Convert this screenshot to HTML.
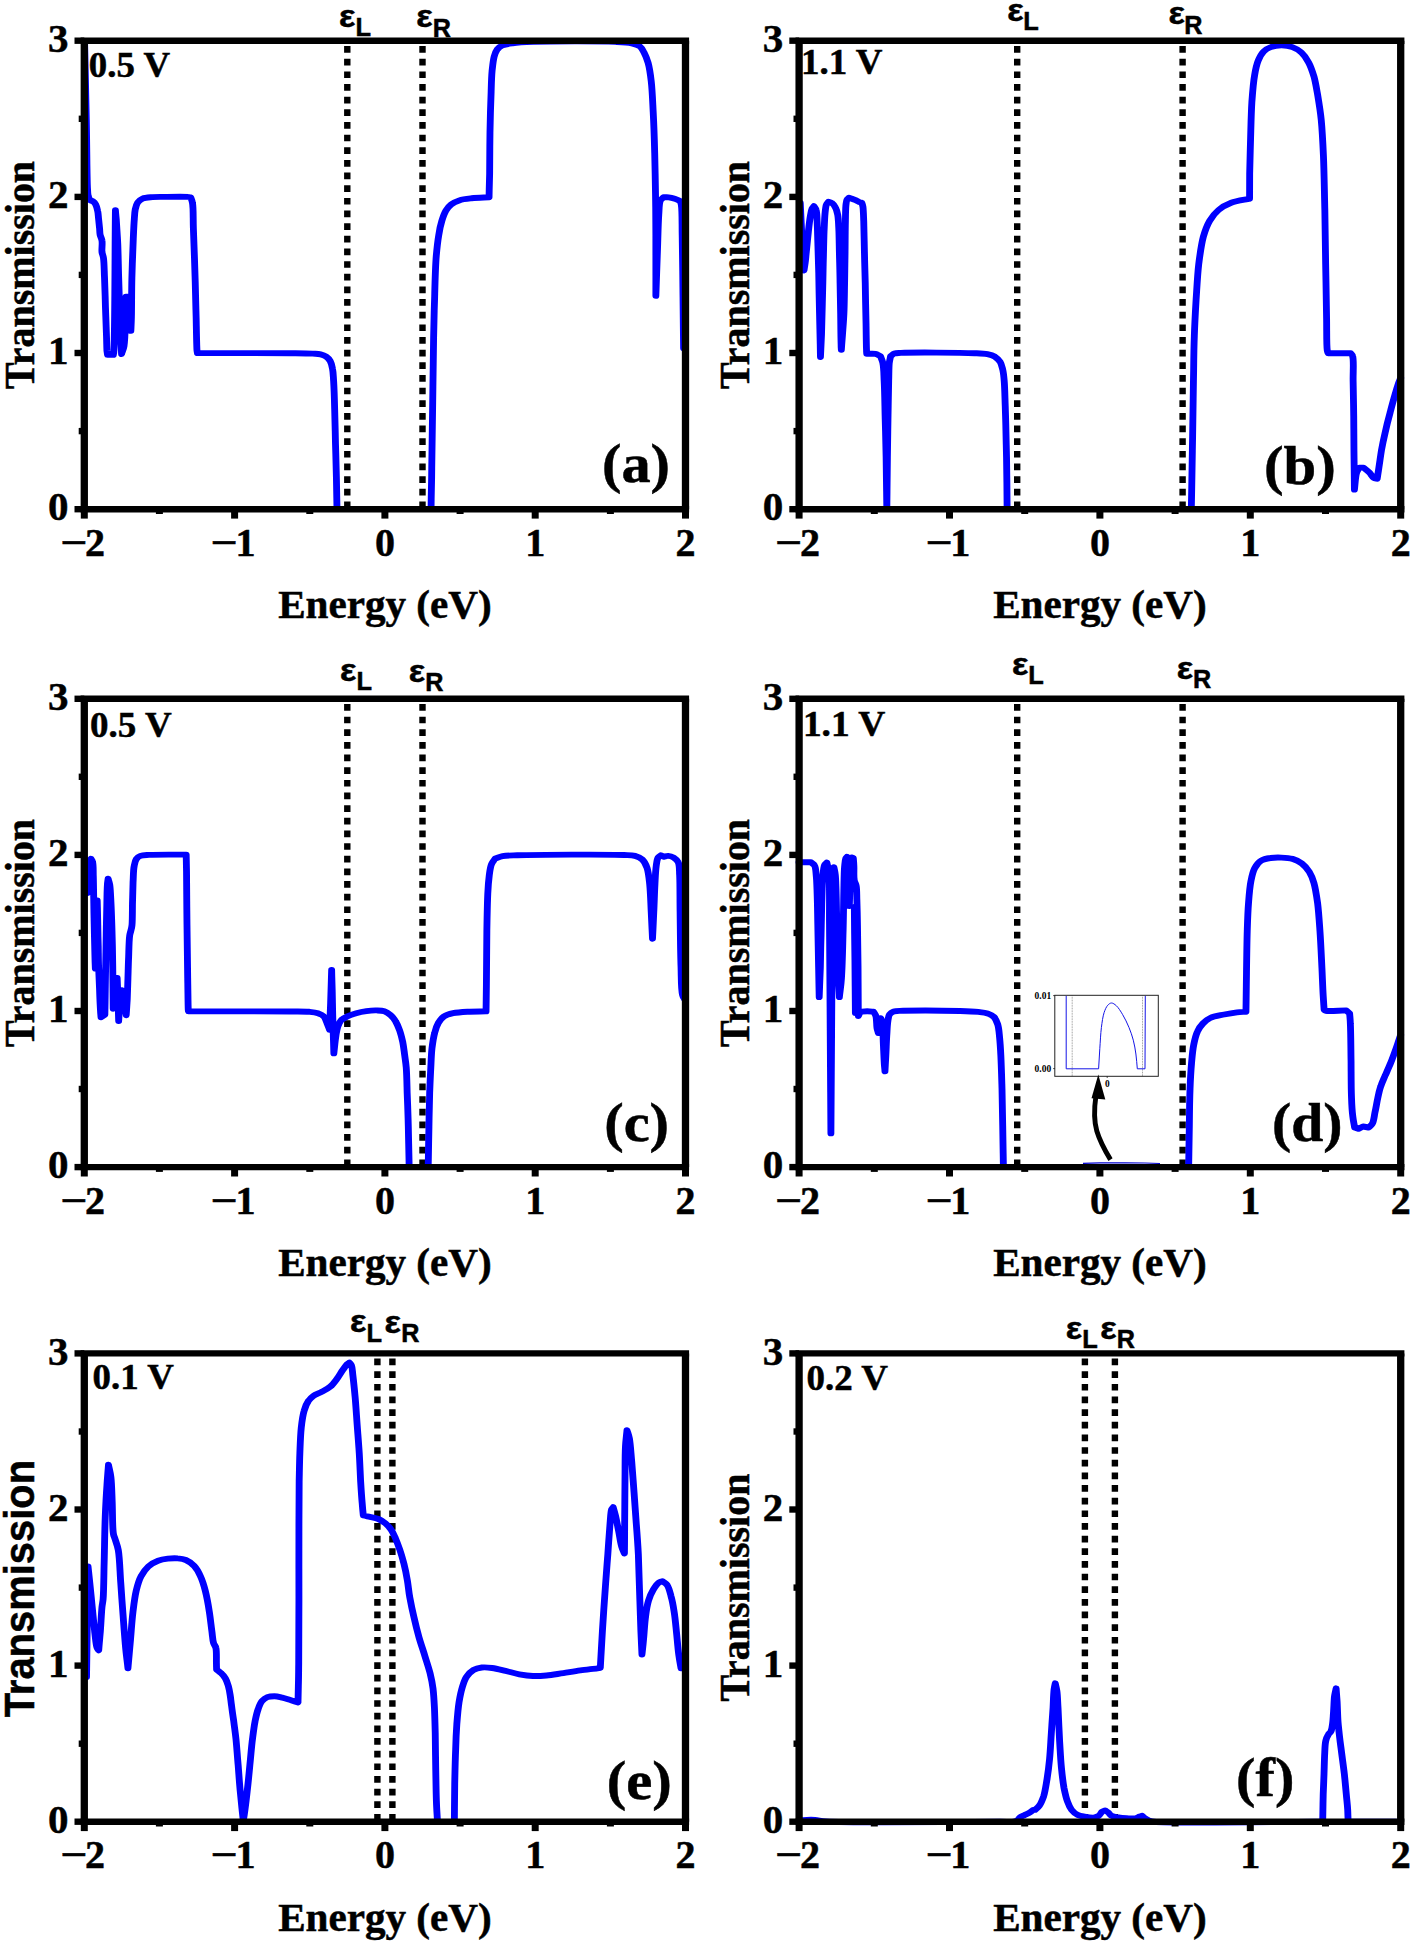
<!DOCTYPE html>
<html><head><meta charset="utf-8"><title>Transmission spectra</title>
<style>html,body{margin:0;padding:0;background:#fff}svg{display:block}</style></head>
<body>
<svg width="1413" height="1944" viewBox="0 0 1413 1944">
<rect width="1413" height="1944" fill="#fff"/>
<g id="panel-a">
<line x1="347.3" y1="508.2" x2="347.3" y2="40.7" stroke="#000" stroke-width="6.4" stroke-dasharray="6.7 5.95"/>
<line x1="422.5" y1="508.2" x2="422.5" y2="40.7" stroke="#000" stroke-width="6.4" stroke-dasharray="6.7 5.95"/>
<path transform="scale(1.16,1)" d="M72.9,41 C73.4,67.3 74,94.9 74.4,120 C74.8,142.7 74.9,172.4 75.3,185 C75.5,190.2 75.5,193.2 76,196 C76.4,197.8 77.1,198.9 77.6,200.3 C78.4,200.6 79.4,200.7 80.2,201.3 C81.1,202 81.9,203.1 82.5,204.4 C83.3,206.1 83.8,208.7 84.2,211 C84.7,213.5 84.7,216.2 85,219 C85.3,222.1 85.6,226.1 85.9,229 C86,231.2 86,232.8 86.3,234.7 C86.6,236.6 87.6,238.2 87.9,240.5 C88.4,243.7 87.6,248.8 87.9,252 C88.2,254.3 88.9,255.4 89.2,258 C89.8,262.7 89.8,270.5 90.1,277.7 C90.4,286.5 90.7,297.3 90.9,307 C91.2,316.7 91.6,327.9 91.8,336 C92,341.8 92,347.7 92.2,351 C92.4,352.7 92.5,353.5 92.7,354.8 L97.7,354.8 C97.8,353.9 98,353.6 98.1,352 C99.1,340.4 99,257.5 99.5,210.3 C99.7,213.2 99.9,215.4 100.2,219 C100.6,225.1 101.1,234.7 101.5,243.5 C101.9,253.9 102,266.7 102.3,277.7 C102.6,287.8 102.8,297.3 103.1,307 C103.4,316.7 103.6,327.5 104,336 C104.2,342.7 104.5,348 104.8,354 C105.5,351.3 106.4,349.5 106.9,346 C107.9,339.3 107.9,325.5 108.2,316.7 C108.4,309.4 108.5,303.4 108.6,296.7 L109.9,296.7 L112.8,330.9 C113,326.2 113.2,322.6 113.3,316.7 C113.5,306.9 113.4,290.7 113.7,277.7 C114,264.7 114.5,249.4 114.9,238.6 C115.2,230.9 115.4,224.4 115.8,219 C116,215.2 116.1,212.2 116.6,209.3 C117.1,206.8 117.6,204.3 118.7,202.5 C119.7,200.9 121.1,199.5 122.9,198.6 C125.1,197.5 128.4,197.4 131.4,197.1 C134.6,196.8 137.4,196.9 141.4,196.9 C147,196.8 158.6,196.5 162.1,196.9 C163.2,197 163.6,197.2 164.4,197.4 C164.9,199.2 165.6,200.3 165.9,202.8 C166.8,208.1 166.4,218 166.7,228 C167.2,242.6 167.9,265.8 168.3,282 C168.6,295.2 168.8,306.3 169.1,318 C169.3,329.1 169.5,345.6 169.8,350.4 C169.9,351.8 170.1,352.2 170.2,353.1 C196.8,353.1 232.4,353 250,353.2 C258.7,353.3 264.7,353.3 269.6,353.6 C272.4,353.8 274.3,353.7 276.4,354.3 C278.2,354.8 279.8,355.5 281.2,356.6 C282.6,357.7 283.8,359.3 284.7,361.1 C285.7,363.2 286.2,365.7 286.6,368.5 C287.3,372.1 287.3,376 287.6,381 C288,388.5 288.3,399.4 288.5,409.3 C288.8,420.1 289,432 289.2,443.3 C289.5,454.6 289.8,466.1 290,477.2 C290.2,488 290.3,498.4 290.5,509" fill="none" stroke="#0000ff" stroke-width="5.9" stroke-linejoin="round" stroke-linecap="round"/>
<path transform="scale(1.16,1)" d="M371.6,509 C371.7,498.4 371.9,488 372.1,477.2 C372.2,466.1 372.3,456 372.5,443.3 C372.7,426.8 373,404.8 373.2,386.6 C373.4,369.7 373.5,353.4 373.8,337.9 C374,323.6 374.3,310.5 374.7,296.8 C375,283.1 375.3,267.1 376.1,255.8 C376.7,247.8 377.3,241.5 378.2,235.3 C378.9,230.1 379.7,225.3 380.9,220.9 C381.9,217.1 382.9,213.5 384.4,210.6 C385.7,208.2 387,206.2 388.9,204.5 C390.8,202.8 393.3,201.4 395.9,200.4 C399,199.2 402.7,198.8 406.6,198.3 C411.1,197.7 416.6,197.6 421.6,197.3 C421.7,189.4 421.9,182.7 422.1,173.7 C422.2,161.9 422.2,146.3 422.4,132.6 C422.6,118.9 423,102.9 423.4,91.6 C423.6,83.6 423.7,77.3 424.2,71.1 C424.7,65.9 425.1,60.6 426,56.7 C426.7,53.8 427.3,51.4 428.6,49.5 C429.8,47.8 431.2,46.4 433.1,45.4 C435.4,44.2 438.4,43.8 441.9,43.3 C446.8,42.5 451.8,42.2 459.7,41.9 C475.4,41.3 515.9,41.2 530.4,41.9 C537,42.2 540.7,42.3 544.6,43.3 C547.4,44 549.9,44.8 551.6,46.4 C553.3,47.9 554.1,50.2 555.2,52.6 C556.5,55.5 557.7,58.8 558.7,62.8 C560,68 560.7,74.3 561.4,81.3 C562.3,90.2 562.6,101.1 563.1,112.1 C563.7,124.8 564.1,139.5 564.4,153.2 C564.7,166.9 564.9,180.5 565.1,194.2 C565.3,207.9 565.4,220.3 565.4,235.3 C565.5,253.5 565.4,275.6 565.4,295.8 C565.8,282.5 566.2,269.2 566.6,255.8 C567.1,242.2 567.3,224.9 567.9,214.7 C568.3,208.7 568.1,203.3 569.3,200.4 C570,198.8 571.1,198.3 572,197.3 C573.4,197.3 574.9,197.1 576.4,197.3 C578.1,197.5 580.1,198.1 581.7,198.7 C583.3,199.3 584.7,200.1 586.1,200.8 C586.5,202 587,202.6 587.3,204.5 C588.2,209.8 587.9,223.3 588.1,235.3 C588.4,252.3 588.6,277.2 588.8,296.8 C589,314.7 589.1,331 589.3,348.1" fill="none" stroke="#0000ff" stroke-width="5.9" stroke-linejoin="round" stroke-linecap="round"/>
<line x1="80.6" y1="40.7" x2="689.1" y2="40.7" stroke="#000" stroke-width="6.4"/>
<line x1="80.6" y1="509.2" x2="689.1" y2="509.2" stroke="#000" stroke-width="6.4"/>
<line x1="84.3" y1="40.7" x2="84.3" y2="509.2" stroke="#000" stroke-width="7.3"/>
<line x1="685.5" y1="40.7" x2="685.5" y2="509.2" stroke="#000" stroke-width="7.3"/>
<line x1="84.3" y1="509.2" x2="84.3" y2="518.6" stroke="#000" stroke-width="7"/>
<line x1="159.4" y1="509.2" x2="159.4" y2="514" stroke="#000" stroke-width="7"/>
<line x1="234.6" y1="509.2" x2="234.6" y2="518.6" stroke="#000" stroke-width="7"/>
<line x1="309.8" y1="509.2" x2="309.8" y2="514" stroke="#000" stroke-width="7"/>
<line x1="384.9" y1="509.2" x2="384.9" y2="518.6" stroke="#000" stroke-width="7"/>
<line x1="460.1" y1="509.2" x2="460.1" y2="514" stroke="#000" stroke-width="7"/>
<line x1="535.2" y1="509.2" x2="535.2" y2="518.6" stroke="#000" stroke-width="7"/>
<line x1="610.4" y1="509.2" x2="610.4" y2="514" stroke="#000" stroke-width="7"/>
<line x1="685.5" y1="509.2" x2="685.5" y2="518.6" stroke="#000" stroke-width="7"/>
<line x1="74.5" y1="509.2" x2="84.3" y2="509.2" stroke="#000" stroke-width="6.4"/>
<line x1="78.7" y1="431.1" x2="84.3" y2="431.1" stroke="#000" stroke-width="6.4"/>
<line x1="74.5" y1="353" x2="84.3" y2="353" stroke="#000" stroke-width="6.4"/>
<line x1="78.7" y1="274.9" x2="84.3" y2="274.9" stroke="#000" stroke-width="6.4"/>
<line x1="74.5" y1="196.9" x2="84.3" y2="196.9" stroke="#000" stroke-width="6.4"/>
<line x1="78.7" y1="118.8" x2="84.3" y2="118.8" stroke="#000" stroke-width="6.4"/>
<line x1="74.5" y1="40.7" x2="84.3" y2="40.7" stroke="#000" stroke-width="6.4"/>
<text x="60.2" y="555.6" font-family="'Liberation Serif','Times New Roman',serif" font-size="40" font-weight="bold" text-anchor="start" textLength="27.3" lengthAdjust="spacingAndGlyphs" stroke="#000" stroke-width="0.5">−</text>
<text x="85.1" y="555.6" font-family="'Liberation Serif','Times New Roman',serif" font-size="40" font-weight="bold" text-anchor="start" stroke="#000" stroke-width="0.5">2</text>
<text x="210.5" y="555.6" font-family="'Liberation Serif','Times New Roman',serif" font-size="40" font-weight="bold" text-anchor="start" textLength="27.3" lengthAdjust="spacingAndGlyphs" stroke="#000" stroke-width="0.5">−</text>
<text x="235.4" y="555.6" font-family="'Liberation Serif','Times New Roman',serif" font-size="40" font-weight="bold" text-anchor="start" stroke="#000" stroke-width="0.5">1</text>
<text x="384.9" y="555.6" font-family="'Liberation Serif','Times New Roman',serif" font-size="40" font-weight="bold" text-anchor="middle" stroke="#000" stroke-width="0.5">0</text>
<text x="535.2" y="555.6" font-family="'Liberation Serif','Times New Roman',serif" font-size="40" font-weight="bold" text-anchor="middle" stroke="#000" stroke-width="0.5">1</text>
<text x="685.5" y="555.6" font-family="'Liberation Serif','Times New Roman',serif" font-size="40" font-weight="bold" text-anchor="middle" stroke="#000" stroke-width="0.5">2</text>
<text x="68.4" y="520.3" font-family="'Liberation Serif','Times New Roman',serif" font-size="41" font-weight="bold" text-anchor="end" stroke="#000" stroke-width="0.5">0</text>
<text x="68.4" y="364.1" font-family="'Liberation Serif','Times New Roman',serif" font-size="41" font-weight="bold" text-anchor="end" stroke="#000" stroke-width="0.5">1</text>
<text x="68.4" y="208" font-family="'Liberation Serif','Times New Roman',serif" font-size="41" font-weight="bold" text-anchor="end" stroke="#000" stroke-width="0.5">2</text>
<text x="68.4" y="51.8" font-family="'Liberation Serif','Times New Roman',serif" font-size="41" font-weight="bold" text-anchor="end" stroke="#000" stroke-width="0.5">3</text>
<text x="384.9" y="618.1" font-family="'Liberation Serif','Times New Roman',serif" font-size="40" font-weight="bold" text-anchor="middle" textLength="213.5" lengthAdjust="spacingAndGlyphs" stroke="#000" stroke-width="0.5">Energy (eV)</text>
<g transform="translate(34,274.9) rotate(-90) scale(1,1.06)"><text x="0" y="0" font-family="'Liberation Serif','Times New Roman',serif" font-size="40" font-weight="bold" text-anchor="middle" textLength="228" lengthAdjust="spacingAndGlyphs" stroke="#000" stroke-width="0.5">Transmission</text></g>
<text x="88.8" y="77" font-family="'Liberation Serif','Times New Roman',serif" font-size="36.6" font-weight="bold" text-anchor="start" textLength="81.2" lengthAdjust="spacingAndGlyphs" stroke="#000" stroke-width="0.5">0.5 V</text>
<text x="602" y="481.9" font-family="'Liberation Serif','Times New Roman',serif" font-size="55" font-weight="bold" text-anchor="start" textLength="68" lengthAdjust="spacingAndGlyphs" stroke="#000" stroke-width="0.5">(a)</text>
<text x="338.9" y="26.9" font-family="'Liberation Sans',Arial,sans-serif" font-size="31.8" font-weight="bold" text-anchor="start" textLength="16.4" lengthAdjust="spacingAndGlyphs" stroke="#000" stroke-width="0.5">ε</text>
<text x="355.4" y="35.7" font-family="'Liberation Sans',Arial,sans-serif" font-size="25.4" font-weight="bold" text-anchor="start" textLength="15.5" lengthAdjust="spacingAndGlyphs" stroke="#000" stroke-width="0.5">L</text>
<text x="416.3" y="27.4" font-family="'Liberation Sans',Arial,sans-serif" font-size="31.8" font-weight="bold" text-anchor="start" textLength="16.4" lengthAdjust="spacingAndGlyphs" stroke="#000" stroke-width="0.5">ε</text>
<text x="432.7" y="36.8" font-family="'Liberation Sans',Arial,sans-serif" font-size="25.4" font-weight="bold" text-anchor="start" textLength="18.2" lengthAdjust="spacingAndGlyphs" stroke="#000" stroke-width="0.5">R</text>
</g>
<g id="panel-b">
<line x1="1017.2" y1="508.2" x2="1017.2" y2="40.7" stroke="#000" stroke-width="6.4" stroke-dasharray="6.7 5.95"/>
<line x1="1182.6" y1="508.2" x2="1182.6" y2="40.7" stroke="#000" stroke-width="6.4" stroke-dasharray="6.7 5.95"/>
<path transform="scale(1.16,1)" d="M689.9,203 C690.3,213.7 690.8,225 691.2,235 C691.6,243.8 691.8,253.4 692.2,260 C692.5,264.3 692.8,267 693.1,270.5 C693.4,268 693.8,265.7 694.1,263 C694.5,259.7 694.7,256.2 695.1,252 C695.6,246.2 696.3,237.8 696.9,231.4 C697.4,225.9 698,220.2 698.6,216 C699.1,213.1 699.3,210.6 700,208.8 C700.5,207.7 701.1,207.1 701.7,206.2 C702.3,207.4 703.1,208.2 703.5,209.8 C704.3,212.5 704.2,216.8 704.4,221.2 C704.7,227 704.8,234.2 705,241.7 C705.3,250.9 705.5,261.6 705.8,272.6 C706,285.3 706.2,301 706.5,313.7 C706.7,324.7 706.9,336.6 707.1,344.6 C707.2,349.7 707.2,352.9 707.3,357 C707.6,349.4 707.9,342.4 708.2,334.3 C708.5,324.8 708.6,314.5 708.9,303.5 C709.2,290.8 709.5,275 709.7,262.3 C710,251.3 710.1,240.2 710.4,231.4 C710.7,224.8 710.8,218.9 711.2,214 C711.5,210.4 711.7,206.9 712.4,204.7 C712.9,203.4 713.6,202.8 714.1,201.8 C715.2,202.2 716.3,202.3 717.2,203.1 C718.4,204.1 719.5,206 720.3,207.8 C721.3,209.9 721.7,212.3 722.2,215 C722.7,218.3 722.8,221.8 723,226.3 C723.4,233.1 723.4,243 723.6,252 C723.8,261.8 724.1,272.6 724.2,282.9 C724.4,293.2 724.5,303.4 724.7,313.7 C724.8,324 724.9,338.6 725.1,344.6 C725.1,347.1 725.2,348.1 725.3,349.8 C725.6,344.6 725.9,339.8 726.3,334.3 C726.7,327.9 727.2,321.3 727.5,313.7 C727.9,304.5 727.9,293.2 728.1,282.9 C728.3,272.6 728.4,262.3 728.5,252 C728.6,241.7 728.6,229.7 728.8,221.2 C728.9,215.2 728.9,209.7 729.2,205.7 C729.5,203.2 729.5,200.9 730.2,199.5 C730.6,198.6 731.3,198.3 731.9,197.7 C732.9,198.1 733.9,198.5 735,199 C736.1,199.5 737.5,200 738.5,200.6 C739.4,201.1 740,201.7 740.8,202.1 C741.5,202.4 742.3,202.6 743,202.8 C743.3,204.1 743.6,205 743.9,206.7 C744.3,210 744.4,215.5 744.6,221.2 C744.8,229.6 745,241.7 745.2,252 C745.4,262.3 745.6,271.9 745.9,282.9 C746.1,295.6 746.3,311.9 746.6,324 C746.7,333.6 746.8,344.9 747,349.8 C747,351.8 747.1,352.5 747.2,353.9 C749.6,353.9 752.5,353.4 754.6,353.9 C756.3,354.3 757.5,355.4 759,356.1 C759.7,358.4 760.6,360.2 761.1,363.1 C762,367.7 761.9,373.9 762.2,381 C762.7,391.3 762.8,406.5 763.1,419.2 C763.4,431.9 763.7,443.7 763.9,457.4 C764.1,473.3 764.3,491.8 764.5,509 C764.7,491.8 764.8,473.3 765,457.4 C765.2,443.7 765.3,431.9 765.5,419.2 C765.7,406.5 765.9,391.3 766.1,381 C766.3,373.9 766.2,367.7 766.6,363.1 C766.9,360.2 767.4,358.4 767.8,356.1 C768.9,355.3 769.7,354.1 771,353.6 C772.6,353 773.7,353.1 776.6,352.9 C786.2,352.3 827.7,352.6 840.2,353.2 C845.4,353.4 848.1,353.4 851.2,354.2 C853.7,354.8 855.9,355.5 857.8,356.8 C859.5,358.1 861.1,359.8 862.2,361.8 C863.4,364 863.8,366.6 864.4,369.5 C865.1,372.9 865.4,376.4 865.7,381 C866.2,387.8 866.3,397.9 866.6,406.4 C866.8,414.9 867.1,423.4 867.2,431.9 C867.4,440.4 867.5,448.9 867.7,457.4 C867.8,465.9 867.9,474.4 868,482.9 C868.1,491.5 868.1,500.3 868.2,509" fill="none" stroke="#0000ff" stroke-width="5.9" stroke-linejoin="round" stroke-linecap="round"/>
<path transform="scale(1.16,1)" d="M1027,509 C1027.3,489.5 1027.7,469.3 1027.9,450.4 C1028.2,432.7 1028.4,413.5 1028.6,398.8 C1028.8,387.8 1028.8,380 1029,370 C1029.1,359.1 1029.2,347.5 1029.6,336 C1029.9,324.2 1030.5,312 1031.1,300 C1031.8,288 1032.3,275.1 1033.4,264 C1034.5,254.3 1035.5,244.8 1037.3,237 C1038.8,230.8 1040.4,225.5 1042.8,220.8 C1044.9,216.7 1047.4,213 1050.5,210 C1053.6,207 1057.4,204.6 1061.4,202.8 C1065.6,200.9 1072.8,199.8 1075.3,199.2 C1076.3,199 1076.6,198.9 1077.2,198.8 C1077.3,190.5 1077.2,183 1077.3,174 C1077.5,163.1 1077.8,150 1078.1,138 C1078.4,126 1078.6,113.1 1079.2,102 C1079.8,92.3 1080.4,82.6 1081.6,75 C1082.4,69.4 1083.2,64.8 1084.7,60.6 C1085.9,57.2 1087.3,53.9 1089.3,51.6 C1091,49.6 1093.1,48.1 1095.5,47.1 C1098.2,45.9 1101.7,45.3 1104.8,45.3 C1107.9,45.3 1111.3,45.9 1114.1,47.1 C1117,48.3 1119.7,50.1 1121.9,52.5 C1124.4,55.1 1126.4,58.7 1128.1,62.4 C1130.1,66.6 1131.5,71.7 1132.8,76.8 C1134.1,82.4 1134.9,88.3 1135.9,94.8 C1137,102.5 1138.2,110.8 1139,120 C1139.9,130.9 1140.4,142.8 1140.9,156 C1141.5,172.2 1141.7,192 1142.1,210 C1142.4,228 1142.6,246 1142.8,264 C1143.1,282 1143.4,302.3 1143.6,318 C1143.8,330.2 1143.5,345.8 1144.2,350.6 C1144.4,352 1144.7,352.3 1145,353.2 L1164.3,353.2 C1164.9,354.1 1165.6,354.4 1166,355.8 C1167.3,359.9 1166.3,372.4 1166.5,381.6 C1166.6,392.2 1166.9,404.5 1167,416 C1167.1,427.5 1167.1,438.6 1167.2,450.4 C1167.3,463 1167.5,476.5 1167.6,489.6 C1168.2,484 1168.4,476.6 1169.5,472.7 C1170.1,470.4 1171,469.3 1171.7,467.6 L1175.4,467.6 C1177.2,469.3 1179.1,470.9 1180.6,472.7 C1182,474.4 1183,476.9 1184.3,477.9 C1185.2,478.6 1186.3,478.5 1187.2,478.8 C1187.7,475.1 1188.2,471.7 1188.7,467.6 C1189.4,462.5 1190.1,456.1 1190.9,450.4 C1191.8,444.7 1192.8,439.2 1194,433.2 C1195.2,426.6 1196.8,419.2 1198.4,412.5 C1199.8,406 1201.6,398.7 1202.8,393.6 C1203.7,390.2 1204.3,387.7 1205.1,385 C1205.8,382.5 1206.7,380.3 1207.5,378" fill="none" stroke="#0000ff" stroke-width="5.9" stroke-linejoin="round" stroke-linecap="round"/>
<line x1="795.5" y1="40.7" x2="1404.4" y2="40.7" stroke="#000" stroke-width="6.4"/>
<line x1="795.5" y1="509.2" x2="1404.4" y2="509.2" stroke="#000" stroke-width="6.4"/>
<line x1="799.1" y1="40.7" x2="799.1" y2="509.2" stroke="#000" stroke-width="7.3"/>
<line x1="1400.7" y1="40.7" x2="1400.7" y2="509.2" stroke="#000" stroke-width="7.3"/>
<line x1="799.1" y1="509.2" x2="799.1" y2="518.6" stroke="#000" stroke-width="7"/>
<line x1="874.3" y1="509.2" x2="874.3" y2="514" stroke="#000" stroke-width="7"/>
<line x1="949.5" y1="509.2" x2="949.5" y2="518.6" stroke="#000" stroke-width="7"/>
<line x1="1024.7" y1="509.2" x2="1024.7" y2="514" stroke="#000" stroke-width="7"/>
<line x1="1099.9" y1="509.2" x2="1099.9" y2="518.6" stroke="#000" stroke-width="7"/>
<line x1="1175.1" y1="509.2" x2="1175.1" y2="514" stroke="#000" stroke-width="7"/>
<line x1="1250.3" y1="509.2" x2="1250.3" y2="518.6" stroke="#000" stroke-width="7"/>
<line x1="1325.5" y1="509.2" x2="1325.5" y2="514" stroke="#000" stroke-width="7"/>
<line x1="1400.7" y1="509.2" x2="1400.7" y2="518.6" stroke="#000" stroke-width="7"/>
<line x1="789.3" y1="509.2" x2="799.1" y2="509.2" stroke="#000" stroke-width="6.4"/>
<line x1="793.5" y1="431.1" x2="799.1" y2="431.1" stroke="#000" stroke-width="6.4"/>
<line x1="789.3" y1="353" x2="799.1" y2="353" stroke="#000" stroke-width="6.4"/>
<line x1="793.5" y1="274.9" x2="799.1" y2="274.9" stroke="#000" stroke-width="6.4"/>
<line x1="789.3" y1="196.9" x2="799.1" y2="196.9" stroke="#000" stroke-width="6.4"/>
<line x1="793.5" y1="118.8" x2="799.1" y2="118.8" stroke="#000" stroke-width="6.4"/>
<line x1="789.3" y1="40.7" x2="799.1" y2="40.7" stroke="#000" stroke-width="6.4"/>
<text x="775" y="555.6" font-family="'Liberation Serif','Times New Roman',serif" font-size="40" font-weight="bold" text-anchor="start" textLength="27.3" lengthAdjust="spacingAndGlyphs" stroke="#000" stroke-width="0.5">−</text>
<text x="799.9" y="555.6" font-family="'Liberation Serif','Times New Roman',serif" font-size="40" font-weight="bold" text-anchor="start" stroke="#000" stroke-width="0.5">2</text>
<text x="925.4" y="555.6" font-family="'Liberation Serif','Times New Roman',serif" font-size="40" font-weight="bold" text-anchor="start" textLength="27.3" lengthAdjust="spacingAndGlyphs" stroke="#000" stroke-width="0.5">−</text>
<text x="950.3" y="555.6" font-family="'Liberation Serif','Times New Roman',serif" font-size="40" font-weight="bold" text-anchor="start" stroke="#000" stroke-width="0.5">1</text>
<text x="1099.9" y="555.6" font-family="'Liberation Serif','Times New Roman',serif" font-size="40" font-weight="bold" text-anchor="middle" stroke="#000" stroke-width="0.5">0</text>
<text x="1250.3" y="555.6" font-family="'Liberation Serif','Times New Roman',serif" font-size="40" font-weight="bold" text-anchor="middle" stroke="#000" stroke-width="0.5">1</text>
<text x="1400.7" y="555.6" font-family="'Liberation Serif','Times New Roman',serif" font-size="40" font-weight="bold" text-anchor="middle" stroke="#000" stroke-width="0.5">2</text>
<text x="783.2" y="520.3" font-family="'Liberation Serif','Times New Roman',serif" font-size="41" font-weight="bold" text-anchor="end" stroke="#000" stroke-width="0.5">0</text>
<text x="783.2" y="364.1" font-family="'Liberation Serif','Times New Roman',serif" font-size="41" font-weight="bold" text-anchor="end" stroke="#000" stroke-width="0.5">1</text>
<text x="783.2" y="208" font-family="'Liberation Serif','Times New Roman',serif" font-size="41" font-weight="bold" text-anchor="end" stroke="#000" stroke-width="0.5">2</text>
<text x="783.2" y="51.8" font-family="'Liberation Serif','Times New Roman',serif" font-size="41" font-weight="bold" text-anchor="end" stroke="#000" stroke-width="0.5">3</text>
<text x="1099.9" y="618.1" font-family="'Liberation Serif','Times New Roman',serif" font-size="40" font-weight="bold" text-anchor="middle" textLength="213.5" lengthAdjust="spacingAndGlyphs" stroke="#000" stroke-width="0.5">Energy (eV)</text>
<g transform="translate(748.8,274.9) rotate(-90) scale(1,1.06)"><text x="0" y="0" font-family="'Liberation Serif','Times New Roman',serif" font-size="40" font-weight="bold" text-anchor="middle" textLength="228" lengthAdjust="spacingAndGlyphs" stroke="#000" stroke-width="0.5">Transmission</text></g>
<text x="801" y="73.7" font-family="'Liberation Serif','Times New Roman',serif" font-size="36.6" font-weight="bold" text-anchor="start" textLength="81.4" lengthAdjust="spacingAndGlyphs" stroke="#000" stroke-width="0.5">1.1 V</text>
<text x="1264" y="484.2" font-family="'Liberation Serif','Times New Roman',serif" font-size="55" font-weight="bold" text-anchor="start" textLength="71.8" lengthAdjust="spacingAndGlyphs" stroke="#000" stroke-width="0.5">(b)</text>
<text x="1007.3" y="20.7" font-family="'Liberation Sans',Arial,sans-serif" font-size="31.8" font-weight="bold" text-anchor="start" textLength="16.4" lengthAdjust="spacingAndGlyphs" stroke="#000" stroke-width="0.5">ε</text>
<text x="1023.2" y="29.6" font-family="'Liberation Sans',Arial,sans-serif" font-size="25.4" font-weight="bold" text-anchor="start" textLength="15.5" lengthAdjust="spacingAndGlyphs" stroke="#000" stroke-width="0.5">L</text>
<text x="1168.4" y="23.8" font-family="'Liberation Sans',Arial,sans-serif" font-size="31.8" font-weight="bold" text-anchor="start" textLength="16.4" lengthAdjust="spacingAndGlyphs" stroke="#000" stroke-width="0.5">ε</text>
<text x="1184.3" y="33.5" font-family="'Liberation Sans',Arial,sans-serif" font-size="25.4" font-weight="bold" text-anchor="start" textLength="18.2" lengthAdjust="spacingAndGlyphs" stroke="#000" stroke-width="0.5">R</text>
</g>
<g id="panel-c">
<line x1="347.3" y1="1166.1" x2="347.3" y2="698.8" stroke="#000" stroke-width="6.4" stroke-dasharray="6.7 5.95"/>
<line x1="422.5" y1="1166.1" x2="422.5" y2="698.8" stroke="#000" stroke-width="6.4" stroke-dasharray="6.7 5.95"/>
<path transform="scale(1.16,1)" d="M75.3,893 C75.5,886 75.7,878 76,872 C76.3,867.6 76.1,862.6 77,860.5 C77.4,859.6 78,859.4 78.4,858.8 C78.9,859.9 79.5,860.5 79.8,862 C80.5,864.8 80.3,870.3 80.4,875 C80.6,880.5 80.6,886.1 80.7,893 C80.8,902.1 81,914.5 81.2,925 C81.4,935.2 81.6,947 81.8,955 C81.9,960.4 82,964 82.2,968.5 C82.4,962.3 82.6,956.6 82.8,950 C83,942.3 83.1,932.9 83.2,925 C83.3,918 83.4,909.3 83.5,905 C83.6,903 83.7,902 83.8,900.5 C84,908.7 84.2,917.1 84.3,925 C84.4,932.3 84.5,939 84.7,946 C84.8,953 84.8,960 85,967 C85.2,974.2 85.5,981.4 85.8,988.6 C86,995.7 86.3,1004.6 86.6,1009.9 C86.7,1013 86.9,1014.8 87.1,1017.3 L90.4,1014.6 C90.6,1002.4 90.8,989.8 90.9,978 C91.1,967 91.2,957.6 91.4,946.2 C91.6,933.1 91.8,915.1 92.1,903.7 C92.2,896.1 92.3,889.1 92.6,884.6 C92.7,882.1 93,880.7 93.2,878.7 C93.6,880.7 94.2,882.1 94.6,884.6 C95.2,889.1 95.4,897.2 95.7,903.7 C96,910.6 96.2,917.8 96.4,924.9 C96.6,932 96.7,938.4 96.9,946.2 C97.1,955.7 97.2,967.5 97.3,978 C97.4,988.3 97.5,998.5 97.6,1008.8 C98.1,1005.6 98.7,1003 99.1,999.2 C99.8,993.5 100.4,985.1 101,978 C101.3,985.1 101.5,992.1 101.7,999.2 C101.9,1006.4 102.1,1013.7 102.3,1021 C102.6,1015.5 102.8,1009.8 103.3,1004.5 C103.7,999.6 104.5,995 105.1,990.2 C105.7,993.2 106.4,995.8 107,999.2 C107.7,1003.8 108.2,1009.9 108.8,1015.2 C109.1,1009.9 109.4,1004.9 109.7,999.2 C109.9,992.6 110.1,985.1 110.3,978 C110.5,970.9 110.6,963.9 110.9,956.8 C111.1,949.7 111.2,940.2 111.8,935.5 C112.1,933.1 112.6,932 112.9,930.2 C113.3,928.4 113.6,927.3 113.8,924.9 C114.2,920.2 114.1,910.8 114.2,903.7 C114.4,896.6 114.5,889.1 114.7,882.5 C115,876.8 114.9,870.8 115.6,866.5 C116.1,863.5 116.4,860.9 117.5,859.1 C118.4,857.6 119.6,856.6 121.1,855.9 C123,855 125.1,855.1 128.4,854.9 C135.4,854.4 149.8,854.7 160.5,854.6 C160.6,860.3 160.7,864.5 160.8,871.8 C160.9,884.6 161,907.2 161.2,924.9 C161.4,942.6 161.6,962.5 161.8,978 C162,990 162.1,1006.2 162.3,1009.9 C162.4,1010.7 162.4,1010.8 162.5,1011.3 C191.7,1011.4 232.4,1011.3 250,1011.5 C257.7,1011.6 262,1011.4 266.5,1011.8 C269.5,1012.1 271.9,1012.3 274.1,1013.2 C276.1,1014 277.9,1014.9 279.1,1016.4 C280.5,1018 281,1020.6 281.8,1022.8 C282.7,1025.1 283.4,1027.5 284.1,1029.8 C284.4,1021.1 284.7,1013 285,1003.7 C285.3,993.2 285.6,981.2 285.9,969.9 C286,976.9 286.2,983.2 286.4,991 C286.6,1000.5 286.7,1012.3 287,1022.8 C287.2,1033.1 287.6,1043.2 287.8,1053.4 C288.4,1047.4 288.9,1040.4 289.6,1035.5 C290.1,1032 290.4,1029.3 291.2,1026.6 C291.9,1024.3 292.6,1022 294,1020.3 C295.3,1018.6 297.4,1017.5 299.4,1016.4 C301.7,1015.1 304.4,1014.1 307.1,1013.2 C309.9,1012.3 312.9,1011.6 315.9,1011.1 C318.8,1010.6 321.9,1010.3 324.7,1010.4 C327,1010.5 329.3,1010.5 331.3,1011.3 C333.3,1012.1 335.1,1013.6 336.7,1015.2 C338.4,1016.9 339.9,1019.1 341.1,1021.5 C342.5,1024.1 343.5,1027.2 344.5,1030.4 C345.6,1034 346.4,1038 347.2,1041.9 C347.9,1046 348.3,1050.4 348.8,1054.6 C349.3,1058.9 349.8,1062.4 350.2,1067.4 C350.7,1074.4 350.8,1084.4 351,1092.9 C351.3,1101.4 351.6,1109.8 351.8,1118.3 C352,1126.8 352.2,1135.5 352.3,1143.8 C352.5,1151.7 352.6,1159.3 352.7,1167" fill="none" stroke="#0000ff" stroke-width="5.9" stroke-linejoin="round" stroke-linecap="round"/>
<path transform="scale(1.16,1)" d="M369.1,1167 C369.3,1159.3 369.4,1151.7 369.5,1143.8 C369.6,1135.5 369.8,1126.8 369.9,1118.3 C370.1,1109.8 370.2,1101.4 370.4,1092.9 C370.7,1084.4 371,1075.3 371.4,1067.4 C371.7,1060.6 371.8,1054.3 372.4,1048.3 C373,1042.9 373.6,1037.5 374.7,1033 C375.5,1029.2 376.4,1025.7 377.9,1022.8 C379.2,1020.3 380.8,1018 382.8,1016.4 C385,1014.8 387.7,1014 390.6,1013.2 C394.2,1012.3 398.7,1012 403.1,1011.7 C408.1,1011.4 413.7,1011.5 419,1011.4 C419.1,1002.8 419.2,995.8 419.3,985.6 C419.5,970.7 419.5,946.9 419.7,930.4 C419.9,916.9 420.1,903.8 420.5,893.6 C420.8,886.4 421.2,880.5 421.8,875.2 C422.3,871.1 422.6,867.2 423.7,864.2 C424.5,861.9 425.8,860.5 426.9,858.6 C429,857.8 430.7,856.8 433.3,856.2 C436.7,855.4 439.8,855.5 445.9,855.3 C462.5,854.7 523,854.3 537.9,855 C542.7,855.2 544.6,855 547.4,855.9 C549.8,856.7 552.1,857.8 553.8,859.6 C555.7,861.6 556.8,864.5 557.8,867.8 C559.1,872.3 559.5,878.2 560.1,884.4 C560.8,892.4 561,902.9 561.4,912 C561.8,921 562.1,929.8 562.5,938.7 C562.9,929.8 563.3,921 563.6,912 C564,902.9 564.2,892.7 564.6,884.4 C564.9,877.6 565.1,870.9 565.7,866 C566.1,862.7 566.3,859.5 567.2,857.7 C567.9,856.5 568.9,856.1 569.7,855.3 L572.1,856.8 C573.4,856.5 574.7,855.8 576,855.9 C577.6,856 579.4,856.7 580.8,857.7 C582.3,858.8 583.9,860.2 584.7,862.3 C586,865.4 585.6,869.8 585.9,875.2 C586.3,884.3 586.1,898.5 586.3,912 C586.5,928.5 586.6,952 587.1,967.2 C587.4,978 587.1,989.3 588.4,994.8 C588.9,997.3 589.8,998.3 590.5,1000" fill="none" stroke="#0000ff" stroke-width="5.9" stroke-linejoin="round" stroke-linecap="round"/>
<line x1="80.6" y1="698.8" x2="689.1" y2="698.8" stroke="#000" stroke-width="6.4"/>
<line x1="80.6" y1="1167.1" x2="689.1" y2="1167.1" stroke="#000" stroke-width="6.4"/>
<line x1="84.3" y1="698.8" x2="84.3" y2="1167.1" stroke="#000" stroke-width="7.3"/>
<line x1="685.5" y1="698.8" x2="685.5" y2="1167.1" stroke="#000" stroke-width="7.3"/>
<line x1="84.3" y1="1167.1" x2="84.3" y2="1176.5" stroke="#000" stroke-width="7"/>
<line x1="159.4" y1="1167.1" x2="159.4" y2="1171.9" stroke="#000" stroke-width="7"/>
<line x1="234.6" y1="1167.1" x2="234.6" y2="1176.5" stroke="#000" stroke-width="7"/>
<line x1="309.8" y1="1167.1" x2="309.8" y2="1171.9" stroke="#000" stroke-width="7"/>
<line x1="384.9" y1="1167.1" x2="384.9" y2="1176.5" stroke="#000" stroke-width="7"/>
<line x1="460.1" y1="1167.1" x2="460.1" y2="1171.9" stroke="#000" stroke-width="7"/>
<line x1="535.2" y1="1167.1" x2="535.2" y2="1176.5" stroke="#000" stroke-width="7"/>
<line x1="610.4" y1="1167.1" x2="610.4" y2="1171.9" stroke="#000" stroke-width="7"/>
<line x1="685.5" y1="1167.1" x2="685.5" y2="1176.5" stroke="#000" stroke-width="7"/>
<line x1="74.5" y1="1167.1" x2="84.3" y2="1167.1" stroke="#000" stroke-width="6.4"/>
<line x1="78.7" y1="1089" x2="84.3" y2="1089" stroke="#000" stroke-width="6.4"/>
<line x1="74.5" y1="1011" x2="84.3" y2="1011" stroke="#000" stroke-width="6.4"/>
<line x1="78.7" y1="932.9" x2="84.3" y2="932.9" stroke="#000" stroke-width="6.4"/>
<line x1="74.5" y1="854.9" x2="84.3" y2="854.9" stroke="#000" stroke-width="6.4"/>
<line x1="78.7" y1="776.8" x2="84.3" y2="776.8" stroke="#000" stroke-width="6.4"/>
<line x1="74.5" y1="698.8" x2="84.3" y2="698.8" stroke="#000" stroke-width="6.4"/>
<text x="60.2" y="1213.5" font-family="'Liberation Serif','Times New Roman',serif" font-size="40" font-weight="bold" text-anchor="start" textLength="27.3" lengthAdjust="spacingAndGlyphs" stroke="#000" stroke-width="0.5">−</text>
<text x="85.1" y="1213.5" font-family="'Liberation Serif','Times New Roman',serif" font-size="40" font-weight="bold" text-anchor="start" stroke="#000" stroke-width="0.5">2</text>
<text x="210.5" y="1213.5" font-family="'Liberation Serif','Times New Roman',serif" font-size="40" font-weight="bold" text-anchor="start" textLength="27.3" lengthAdjust="spacingAndGlyphs" stroke="#000" stroke-width="0.5">−</text>
<text x="235.4" y="1213.5" font-family="'Liberation Serif','Times New Roman',serif" font-size="40" font-weight="bold" text-anchor="start" stroke="#000" stroke-width="0.5">1</text>
<text x="384.9" y="1213.5" font-family="'Liberation Serif','Times New Roman',serif" font-size="40" font-weight="bold" text-anchor="middle" stroke="#000" stroke-width="0.5">0</text>
<text x="535.2" y="1213.5" font-family="'Liberation Serif','Times New Roman',serif" font-size="40" font-weight="bold" text-anchor="middle" stroke="#000" stroke-width="0.5">1</text>
<text x="685.5" y="1213.5" font-family="'Liberation Serif','Times New Roman',serif" font-size="40" font-weight="bold" text-anchor="middle" stroke="#000" stroke-width="0.5">2</text>
<text x="68.4" y="1178.2" font-family="'Liberation Serif','Times New Roman',serif" font-size="41" font-weight="bold" text-anchor="end" stroke="#000" stroke-width="0.5">0</text>
<text x="68.4" y="1022.1" font-family="'Liberation Serif','Times New Roman',serif" font-size="41" font-weight="bold" text-anchor="end" stroke="#000" stroke-width="0.5">1</text>
<text x="68.4" y="866" font-family="'Liberation Serif','Times New Roman',serif" font-size="41" font-weight="bold" text-anchor="end" stroke="#000" stroke-width="0.5">2</text>
<text x="68.4" y="709.9" font-family="'Liberation Serif','Times New Roman',serif" font-size="41" font-weight="bold" text-anchor="end" stroke="#000" stroke-width="0.5">3</text>
<text x="384.9" y="1276" font-family="'Liberation Serif','Times New Roman',serif" font-size="40" font-weight="bold" text-anchor="middle" textLength="213.5" lengthAdjust="spacingAndGlyphs" stroke="#000" stroke-width="0.5">Energy (eV)</text>
<g transform="translate(34,932.9) rotate(-90) scale(1,1.06)"><text x="0" y="0" font-family="'Liberation Serif','Times New Roman',serif" font-size="40" font-weight="bold" text-anchor="middle" textLength="228" lengthAdjust="spacingAndGlyphs" stroke="#000" stroke-width="0.5">Transmission</text></g>
<text x="90.1" y="736.9" font-family="'Liberation Serif','Times New Roman',serif" font-size="36.6" font-weight="bold" text-anchor="start" textLength="81.6" lengthAdjust="spacingAndGlyphs" stroke="#000" stroke-width="0.5">0.5 V</text>
<text x="604.2" y="1141.2" font-family="'Liberation Serif','Times New Roman',serif" font-size="55" font-weight="bold" text-anchor="start" textLength="64.9" lengthAdjust="spacingAndGlyphs" stroke="#000" stroke-width="0.5">(c)</text>
<text x="340" y="680.8" font-family="'Liberation Sans',Arial,sans-serif" font-size="31.8" font-weight="bold" text-anchor="start" textLength="16.4" lengthAdjust="spacingAndGlyphs" stroke="#000" stroke-width="0.5">ε</text>
<text x="356.6" y="690.2" font-family="'Liberation Sans',Arial,sans-serif" font-size="25.4" font-weight="bold" text-anchor="start" textLength="15.5" lengthAdjust="spacingAndGlyphs" stroke="#000" stroke-width="0.5">L</text>
<text x="408.7" y="682" font-family="'Liberation Sans',Arial,sans-serif" font-size="31.8" font-weight="bold" text-anchor="start" textLength="16.4" lengthAdjust="spacingAndGlyphs" stroke="#000" stroke-width="0.5">ε</text>
<text x="425.3" y="691.3" font-family="'Liberation Sans',Arial,sans-serif" font-size="25.4" font-weight="bold" text-anchor="start" textLength="18.2" lengthAdjust="spacingAndGlyphs" stroke="#000" stroke-width="0.5">R</text>
</g>
<g id="panel-d">
<line x1="1017.2" y1="1166.1" x2="1017.2" y2="698.8" stroke="#000" stroke-width="6.4" stroke-dasharray="6.7 5.95"/>
<line x1="1182.6" y1="1166.1" x2="1182.6" y2="698.8" stroke="#000" stroke-width="6.4" stroke-dasharray="6.7 5.95"/>
<path transform="scale(1.16,1)" d="M688.8,862.3 L699.1,862.3 C700.1,863.4 701.5,864 702.2,865.5 C703.3,867.7 703.3,871.3 703.6,875 C704.1,880.1 704.2,886.2 704.4,893.1 C704.7,902.2 704.8,913.5 705,924.9 C705.2,938 705.5,954.5 705.7,967.4 C705.9,978.2 706,987.2 706.2,997.1 C706.5,987.2 706.9,977.5 707.2,967.4 C707.4,957 707.5,946.1 707.8,935.5 C708,924.9 708.2,913.8 708.4,903.7 C708.7,894.5 708.7,884.3 709.3,877.2 C709.7,872.3 709.9,867.3 710.9,864.9 C711.4,863.7 712.2,863.3 712.8,862.5 C713.3,865.6 714.1,867.4 714.5,871.8 C715.5,882.2 714.9,904.2 715.1,924.9 C715.3,954 715.5,995.1 715.7,1030 C715.9,1064.6 716.1,1098.9 716.3,1133.4 C716.5,1098.9 716.7,1064.6 716.9,1030 C717.1,995.1 717.3,952.1 717.6,924.9 C717.7,907.6 717.8,893.1 718.1,882.5 C718.3,876.1 718.6,872.2 718.9,867.1 C719.3,869.7 719.8,871.3 720.1,875 C720.8,883.1 720.9,900.2 721.2,914.3 C721.6,930.7 721.7,952.3 722.2,967.4 C722.6,978.7 723.2,987.2 723.6,997.1 C724.2,990.7 725,985.6 725.4,978 C726.1,966.6 726.4,949.7 726.7,935.5 C727.1,921.4 727.2,905.6 727.4,893.1 C727.6,883.2 727.6,872.7 728.1,866.5 C728.4,863.1 728.5,860.3 729.1,858.6 C729.4,857.7 729.8,857.4 730.2,856.8 C730.5,861.2 730.8,865.1 731,870 C731.3,876 731.5,883.7 731.7,890 C731.9,895.6 732,900.7 732.2,906 C732.4,899 732.5,891.9 732.8,885 C733,878.3 733.1,870.1 733.4,865 C733.7,861.9 734,860 734.3,857.5 L735.6,858 C735.8,860.7 736,863 736.1,866 C736.3,870 735.8,876.3 736.4,880 C736.7,882.4 737.7,883.6 738.1,886 C738.7,889.7 738.5,894.7 738.7,900 C738.9,907.1 739.1,915.6 739.2,925 C739.4,937.2 739.5,952.9 739.7,967 C739.8,981.2 739.8,1002.2 739.9,1010 C739.9,1012.9 740,1014 740,1016 L741.6,1011.8 C743.6,1011.6 745.6,1011.3 747.6,1011.3 C749.5,1011.3 751.3,1011.6 753.1,1011.8 C753.8,1013.2 754.6,1014.3 755.1,1016.1 C755.8,1019 755.6,1024.7 756,1027.8 C756.3,1029.9 756.8,1031.3 757.2,1033.1 C757.6,1031.3 758,1029.8 758.4,1027.8 C758.8,1025.1 759,1021.4 759.3,1018.2 C759.7,1019.6 760.3,1020.5 760.6,1022.5 C761.3,1026.9 761.2,1036.6 761.5,1043.7 C761.8,1050.8 762.1,1059.9 762.4,1064.9 C762.6,1067.7 762.8,1069.2 762.9,1071.3 C763.2,1065.6 763.4,1060.3 763.7,1054.3 C764,1047.6 764.2,1039.3 764.6,1033.1 C764.8,1028.3 765,1023.7 765.5,1020.3 C765.9,1018 765.9,1016 766.8,1014.5 C767.6,1013.2 768.9,1012.1 770.4,1011.5 C772.5,1010.6 774.8,1011 778.7,1010.8 C788.2,1010.4 815.8,1010.6 827.6,1011 C834.3,1011.2 839.1,1011.4 843.4,1011.9 C846.6,1012.3 849.1,1012.5 851.4,1013.4 C853.5,1014.2 855.5,1015.3 856.9,1017 C858.5,1018.9 859.3,1021.5 860.1,1024.4 C861.1,1028 861.3,1032.6 861.7,1037.3 C862.2,1042.9 862.5,1048.7 862.8,1055.7 C863.2,1065.1 863.5,1077.5 863.8,1088.8 C864.1,1100.7 864.2,1113 864.4,1125.6 C864.6,1139 864.8,1153.2 865,1167" fill="none" stroke="#0000ff" stroke-width="5.9" stroke-linejoin="round" stroke-linecap="round"/>
<path transform="scale(1.16,1)" d="M1024.7,1167 C1024.9,1153.2 1025.1,1139 1025.3,1125.6 C1025.4,1113 1025.5,1100 1025.9,1088.8 C1026.2,1079.4 1026.6,1070.9 1027.2,1063 C1027.7,1056.3 1028.1,1050.1 1029.1,1044.6 C1029.9,1039.9 1030.7,1035.5 1032.2,1031.8 C1033.4,1028.6 1035,1025.9 1037,1023.5 C1038.8,1021.3 1040.7,1019.4 1043.3,1018 C1046.5,1016.2 1051.3,1015.5 1055.3,1014.5 C1059,1013.6 1063,1012.8 1066.4,1012.3 C1069.2,1011.9 1071.5,1011.9 1074.1,1011.7 C1074.2,1003.4 1074.3,996.7 1074.4,986.7 C1074.6,971.8 1074.8,946.5 1075.2,931.1 C1075.5,920.2 1075.7,912 1076.3,903.3 C1076.8,895.5 1077.3,887.5 1078.4,881.1 C1079.2,876.2 1079.9,871.8 1081.6,868.2 C1083,865.2 1084.8,862.4 1087.2,860.7 C1089.4,859.1 1092.3,858.5 1095.2,858 C1098.2,857.4 1101.6,857.5 1104.7,857.6 C1107.9,857.7 1111.4,857.9 1114.3,858.9 C1117.2,859.9 1120,861.4 1122.3,863.5 C1124.8,865.7 1127,868.8 1128.7,871.9 C1130.5,875.2 1131.6,878.7 1132.7,883 C1134.1,888.7 1135,896 1135.9,903.3 C1136.8,911.8 1137.3,921.2 1137.9,931.1 C1138.6,942.6 1139.1,956.7 1139.6,968.2 C1140,978.1 1140.3,988.3 1140.7,996 C1141,1001.4 1141.2,1005.3 1141.5,1009.9 C1142,1010.2 1142.2,1010.6 1143.1,1010.8 C1145.8,1011.5 1154.8,1010.5 1160.6,1010.4 L1163.5,1013.6 C1163.7,1017 1164,1019.3 1164.1,1023.7 C1164.5,1032.2 1164.5,1048.4 1164.7,1060.8 C1164.8,1073.1 1164.7,1087.6 1165.1,1097.8 C1165.3,1105.1 1165.6,1111 1166.2,1116.4 C1166.6,1120.6 1167.3,1123.8 1167.8,1127.5 L1171,1128.9 L1175,1126.5 L1179.8,1127.5 C1180.9,1126.3 1182.2,1125.5 1183,1123.8 C1184.3,1121.2 1184.6,1116.6 1185.3,1112.6 C1186.2,1108 1186.9,1102.4 1187.8,1097.8 C1188.5,1093.8 1189.1,1090.4 1190.2,1086.7 C1191.2,1083 1192.7,1079.4 1194.1,1075.6 C1195.7,1071.4 1197.4,1067.1 1199,1062.6 C1200.6,1057.8 1202.4,1052 1203.7,1047.8 C1204.7,1044.6 1205.4,1041.8 1206.1,1039.5 C1206.6,1037.8 1207,1036.5 1207.5,1035" fill="none" stroke="#0000ff" stroke-width="5.9" stroke-linejoin="round" stroke-linecap="round"/>
<path transform="scale(1.16,1)" d="M736.5,907 C736.6,924.7 736.8,942.3 737,960 C737.1,977.7 737.3,995.3 737.4,1013" fill="none" stroke="#0000ff" stroke-width="5.9" stroke-linejoin="round" stroke-linecap="round"/>
<g id="inset">
<rect x="1054.8" y="995.3" width="103.5" height="81" fill="#fff" stroke="#222" stroke-width="1"/>
<line x1="1072.2" y1="995.3" x2="1072.2" y2="1076.3" stroke="#444" stroke-width="0.6" stroke-dasharray="0.8 0.8"/>
<line x1="1142.5" y1="995.3" x2="1142.5" y2="1076.3" stroke="#444" stroke-width="0.6" stroke-dasharray="0.8 0.8"/>
<path fill="none" stroke="#1414e6" stroke-width="1" d="M1066.2,995.9 L1066.2,1068.8 L1098.6,1068.8"/>
<path fill="none" stroke="#1414e6" stroke-width="1" d="M1098.6,1068.8 C1099,1062.1 1099.3,1055.5 1099.8,1048.7 C1100.3,1041.7 1100.6,1033.9 1101.4,1027.5 C1102.1,1022.1 1102.8,1016.6 1104.1,1012.6 C1105.1,1009.6 1106.3,1006.8 1107.8,1005.2 C1108.9,1004 1110.2,1003 1111.5,1003 C1113,1003 1114.7,1004.3 1116.3,1005.7 C1118.5,1007.7 1120.7,1011.3 1122.7,1014.7 C1125,1018.5 1127.2,1023.2 1129,1027.5 C1130.7,1031.7 1132.2,1035.8 1133.3,1040.2 C1134.5,1044.7 1135.2,1049.3 1135.9,1054 C1136.6,1058.8 1136.8,1063.9 1137.3,1068.8"/>
<path fill="none" stroke="#1414e6" stroke-width="1" d="M1137.3,1068.8 L1145,1068.8 L1145.3,995.9"/>
<path d="M1053.3,995.6h1.5M1053.3,1068.6h1.5M1107.2,1076.3v1.5" stroke="#222" stroke-width="1"/>
<text x="1051.2" y="998.9" font-family="'Liberation Serif','Times New Roman',serif" font-size="9.4" font-weight="bold" text-anchor="end" textLength="16.6" lengthAdjust="spacingAndGlyphs">0.01</text>
<text x="1051.2" y="1072.4" font-family="'Liberation Serif','Times New Roman',serif" font-size="9.4" font-weight="bold" text-anchor="end" textLength="16.6" lengthAdjust="spacingAndGlyphs">0.00</text>
<text x="1107.3" y="1087.0" font-family="'Liberation Serif','Times New Roman',serif" font-size="9.4" font-weight="bold" text-anchor="middle">0</text>
<path d="M1083,1163.4 L1100,1162.9 L1125,1162.7 L1145,1163 L1160,1163.5" fill="none" stroke="#0000d0" stroke-width="1.1"/>
<path d="M1110.5,1159.6 C1104,1149 1099.5,1140 1096.8,1131 C1094.2,1122 1093.6,1112 1095.9,1096" fill="none" stroke="#000" stroke-width="4.9"/>
<path d="M1098.3,1074.6 L1105.3,1099.4 L1091.5,1098.3 Z" fill="#000"/>
</g>
<line x1="795.5" y1="698.8" x2="1404.4" y2="698.8" stroke="#000" stroke-width="6.4"/>
<line x1="795.5" y1="1167.1" x2="1404.4" y2="1167.1" stroke="#000" stroke-width="6.4"/>
<line x1="799.1" y1="698.8" x2="799.1" y2="1167.1" stroke="#000" stroke-width="7.3"/>
<line x1="1400.7" y1="698.8" x2="1400.7" y2="1167.1" stroke="#000" stroke-width="7.3"/>
<line x1="799.1" y1="1167.1" x2="799.1" y2="1176.5" stroke="#000" stroke-width="7"/>
<line x1="874.3" y1="1167.1" x2="874.3" y2="1171.9" stroke="#000" stroke-width="7"/>
<line x1="949.5" y1="1167.1" x2="949.5" y2="1176.5" stroke="#000" stroke-width="7"/>
<line x1="1024.7" y1="1167.1" x2="1024.7" y2="1171.9" stroke="#000" stroke-width="7"/>
<line x1="1099.9" y1="1167.1" x2="1099.9" y2="1176.5" stroke="#000" stroke-width="7"/>
<line x1="1175.1" y1="1167.1" x2="1175.1" y2="1171.9" stroke="#000" stroke-width="7"/>
<line x1="1250.3" y1="1167.1" x2="1250.3" y2="1176.5" stroke="#000" stroke-width="7"/>
<line x1="1325.5" y1="1167.1" x2="1325.5" y2="1171.9" stroke="#000" stroke-width="7"/>
<line x1="1400.7" y1="1167.1" x2="1400.7" y2="1176.5" stroke="#000" stroke-width="7"/>
<line x1="789.3" y1="1167.1" x2="799.1" y2="1167.1" stroke="#000" stroke-width="6.4"/>
<line x1="793.5" y1="1089" x2="799.1" y2="1089" stroke="#000" stroke-width="6.4"/>
<line x1="789.3" y1="1011" x2="799.1" y2="1011" stroke="#000" stroke-width="6.4"/>
<line x1="793.5" y1="932.9" x2="799.1" y2="932.9" stroke="#000" stroke-width="6.4"/>
<line x1="789.3" y1="854.9" x2="799.1" y2="854.9" stroke="#000" stroke-width="6.4"/>
<line x1="793.5" y1="776.8" x2="799.1" y2="776.8" stroke="#000" stroke-width="6.4"/>
<line x1="789.3" y1="698.8" x2="799.1" y2="698.8" stroke="#000" stroke-width="6.4"/>
<text x="775" y="1213.5" font-family="'Liberation Serif','Times New Roman',serif" font-size="40" font-weight="bold" text-anchor="start" textLength="27.3" lengthAdjust="spacingAndGlyphs" stroke="#000" stroke-width="0.5">−</text>
<text x="799.9" y="1213.5" font-family="'Liberation Serif','Times New Roman',serif" font-size="40" font-weight="bold" text-anchor="start" stroke="#000" stroke-width="0.5">2</text>
<text x="925.4" y="1213.5" font-family="'Liberation Serif','Times New Roman',serif" font-size="40" font-weight="bold" text-anchor="start" textLength="27.3" lengthAdjust="spacingAndGlyphs" stroke="#000" stroke-width="0.5">−</text>
<text x="950.3" y="1213.5" font-family="'Liberation Serif','Times New Roman',serif" font-size="40" font-weight="bold" text-anchor="start" stroke="#000" stroke-width="0.5">1</text>
<text x="1099.9" y="1213.5" font-family="'Liberation Serif','Times New Roman',serif" font-size="40" font-weight="bold" text-anchor="middle" stroke="#000" stroke-width="0.5">0</text>
<text x="1250.3" y="1213.5" font-family="'Liberation Serif','Times New Roman',serif" font-size="40" font-weight="bold" text-anchor="middle" stroke="#000" stroke-width="0.5">1</text>
<text x="1400.7" y="1213.5" font-family="'Liberation Serif','Times New Roman',serif" font-size="40" font-weight="bold" text-anchor="middle" stroke="#000" stroke-width="0.5">2</text>
<text x="783.2" y="1178.2" font-family="'Liberation Serif','Times New Roman',serif" font-size="41" font-weight="bold" text-anchor="end" stroke="#000" stroke-width="0.5">0</text>
<text x="783.2" y="1022.1" font-family="'Liberation Serif','Times New Roman',serif" font-size="41" font-weight="bold" text-anchor="end" stroke="#000" stroke-width="0.5">1</text>
<text x="783.2" y="866" font-family="'Liberation Serif','Times New Roman',serif" font-size="41" font-weight="bold" text-anchor="end" stroke="#000" stroke-width="0.5">2</text>
<text x="783.2" y="709.9" font-family="'Liberation Serif','Times New Roman',serif" font-size="41" font-weight="bold" text-anchor="end" stroke="#000" stroke-width="0.5">3</text>
<text x="1099.9" y="1276" font-family="'Liberation Serif','Times New Roman',serif" font-size="40" font-weight="bold" text-anchor="middle" textLength="213.5" lengthAdjust="spacingAndGlyphs" stroke="#000" stroke-width="0.5">Energy (eV)</text>
<g transform="translate(748.8,932.9) rotate(-90) scale(1,1.06)"><text x="0" y="0" font-family="'Liberation Serif','Times New Roman',serif" font-size="40" font-weight="bold" text-anchor="middle" textLength="228" lengthAdjust="spacingAndGlyphs" stroke="#000" stroke-width="0.5">Transmission</text></g>
<text x="802.9" y="735.7" font-family="'Liberation Serif','Times New Roman',serif" font-size="36.6" font-weight="bold" text-anchor="start" textLength="82.4" lengthAdjust="spacingAndGlyphs" stroke="#000" stroke-width="0.5">1.1 V</text>
<text x="1272.1" y="1140.9" font-family="'Liberation Serif','Times New Roman',serif" font-size="55" font-weight="bold" text-anchor="start" textLength="70.5" lengthAdjust="spacingAndGlyphs" stroke="#000" stroke-width="0.5">(d)</text>
<text x="1011.9" y="674.6" font-family="'Liberation Sans',Arial,sans-serif" font-size="31.8" font-weight="bold" text-anchor="start" textLength="16.4" lengthAdjust="spacingAndGlyphs" stroke="#000" stroke-width="0.5">ε</text>
<text x="1028.2" y="683.5" font-family="'Liberation Sans',Arial,sans-serif" font-size="25.4" font-weight="bold" text-anchor="start" textLength="15.5" lengthAdjust="spacingAndGlyphs" stroke="#000" stroke-width="0.5">L</text>
<text x="1176.7" y="678.5" font-family="'Liberation Sans',Arial,sans-serif" font-size="31.8" font-weight="bold" text-anchor="start" textLength="16.4" lengthAdjust="spacingAndGlyphs" stroke="#000" stroke-width="0.5">ε</text>
<text x="1192.9" y="687.8" font-family="'Liberation Sans',Arial,sans-serif" font-size="25.4" font-weight="bold" text-anchor="start" textLength="18.2" lengthAdjust="spacingAndGlyphs" stroke="#000" stroke-width="0.5">R</text>
</g>
<g id="panel-e">
<line x1="377.4" y1="1820.7" x2="377.4" y2="1353.4" stroke="#000" stroke-width="6.4" stroke-dasharray="6.7 5.95"/>
<line x1="392.4" y1="1820.7" x2="392.4" y2="1353.4" stroke="#000" stroke-width="6.4" stroke-dasharray="6.7 5.95"/>
<path transform="scale(1.16,1)" d="M74.6,1677 L75.9,1566.5 C76.4,1571.9 76.9,1576.8 77.4,1582.8 C78.1,1590.1 78.8,1599.1 79.5,1607.2 C80.2,1615.3 80.9,1624.3 81.6,1631.6 C82.3,1637.6 82.7,1644.9 83.7,1647.9 C84.1,1649.1 84.6,1649.5 85.1,1650.3 C85.5,1644.1 86,1638.2 86.5,1631.6 C87,1624 87.4,1613.1 87.9,1607.2 C88.2,1603.8 88.6,1602.7 88.9,1599.1 C89.4,1591.9 89.5,1578.5 89.7,1566.5 C90.1,1551.9 90.2,1532.3 90.7,1517.7 C91.1,1505.7 91.6,1494.7 92.2,1485.1 C92.6,1477.5 93.1,1471.6 93.5,1464.8 C94.2,1468.9 95.1,1472.2 95.6,1477 C96.3,1483.7 96.4,1492.7 96.7,1501.4 C97.1,1511.5 96.8,1528 97.8,1534 C98.1,1536.3 98.6,1536.9 99.1,1538.8 C99.9,1541.8 101.2,1545.4 102,1550.2 C103.2,1558.2 103.4,1571.9 104.1,1582.8 C104.7,1593.6 105.4,1604.5 106.1,1615.3 C106.8,1626.2 107.5,1638.3 108.3,1647.9 C108.9,1655.5 109.7,1661.4 110.3,1668.2 C111.1,1658.7 111.8,1649.2 112.5,1639.8 C113.2,1630.5 113.7,1620.7 114.6,1612.1 C115.4,1604.5 116.1,1597.3 117.4,1590.9 C118.5,1585.5 119.6,1580.6 121.6,1576.3 C123.3,1572.6 125.4,1569.1 127.9,1566.5 C130.3,1564.1 133.4,1562.1 136.3,1560.8 C139,1559.6 141.9,1559.1 144.7,1558.7 C147.5,1558.3 150.5,1558.1 153.2,1558.4 C155.6,1558.6 158,1558.9 160.2,1560 C162.6,1561.2 165.1,1563.3 167.2,1565.7 C169.5,1568.5 171.3,1572.4 172.8,1576.3 C174.6,1580.7 175.8,1585.5 177,1590.9 C178.4,1597.3 179.6,1605.2 180.5,1612.1 C181.4,1618.7 182,1626 182.7,1631.6 C183.2,1635.9 183.3,1640 184.1,1643 C184.6,1645 185.7,1645.7 186.1,1647.9 C186.9,1651.7 186.4,1660.2 186.6,1664.2 C186.6,1666.5 186.7,1667.8 186.7,1669.6 C188,1670.8 189.3,1671.7 190.5,1673.1 C191.9,1674.6 193.3,1676.4 194.3,1678.4 C195.5,1680.7 196.2,1683.5 196.9,1686.2 C197.6,1689 198,1691.9 198.4,1695 C198.9,1698.3 199.1,1701.7 199.6,1705.5 C200.1,1710.2 200.8,1715.8 201.5,1721.2 C202.1,1726.9 202.8,1732.3 203.4,1738.7 C204.1,1746.6 204.6,1756.2 205.3,1765 C205.9,1773.7 206.4,1783.3 207.1,1791.2 C207.6,1797.6 208.1,1803.4 208.6,1808.7 C209,1813.2 209.4,1816.9 209.7,1821 C210.3,1816.9 210.8,1813.2 211.3,1808.7 C211.9,1803.4 212.5,1797.6 213.1,1791.2 C213.9,1783.3 214.7,1773.7 215.4,1765 C216.2,1756.2 216.8,1746.6 217.7,1738.7 C218.4,1732.3 219,1726.5 219.9,1721.2 C220.7,1716.7 221.4,1712.6 222.6,1709 C223.5,1706 224.4,1703.1 225.9,1701.1 C227.2,1699.4 228.8,1698 230.5,1697.2 C232.3,1696.4 234.5,1696.3 236.6,1696.3 C238.7,1696.3 241,1697 243.3,1697.6 C245.8,1698.3 248.5,1699.4 250.9,1700.2 C253,1701 254.9,1701.7 256.9,1702.4 C257,1697 257.1,1692 257.2,1686.2 C257.4,1679.4 257.4,1673.5 257.5,1664.2 C257.6,1648.4 257.6,1622.3 257.7,1600 C257.7,1575.7 257.6,1545.7 257.7,1524 C257.7,1507.8 257.8,1494.2 257.9,1481.5 C258.1,1471.1 258.2,1462.4 258.5,1453.2 C258.8,1444.5 259,1435.4 259.7,1427.8 C260.3,1421.6 260.9,1415.6 262.2,1410.8 C263.1,1407 264.3,1403.5 265.9,1400.9 C267.1,1398.8 268.3,1397.4 270.1,1395.9 C272.1,1394.2 275,1393.2 277.4,1391.7 C279.9,1390.2 282.6,1388.8 284.7,1386.7 C287.1,1384.4 289,1381.1 290.9,1378.2 C292.6,1375.4 294.1,1372.2 295.7,1369.7 C297,1367.6 298.3,1365.3 299.4,1364.1 C300,1363.4 300.6,1363.1 301.2,1362.6 C301.8,1363.6 302.5,1364.2 303,1365.5 C303.8,1367.8 303.8,1371.5 304.2,1375.4 C304.8,1381.1 305.5,1389 306.1,1396.6 C306.8,1405.3 307.3,1415.5 307.9,1424.9 C308.5,1434.3 309.2,1443.8 309.7,1453.2 C310.2,1462.6 310.5,1472.7 310.9,1481.5 C311.3,1489.1 311.7,1496.6 312.2,1502.8 C312.5,1507.6 312.8,1511.3 313.2,1515.5 C315.1,1516 316.9,1516.4 318.9,1516.9 C321.2,1517.5 324,1517.9 326.2,1519 C328.4,1520.1 330.5,1521.6 332.3,1523.3 C334.2,1525.1 335.8,1527.3 337.2,1529.7 C338.7,1532.2 339.7,1535.1 340.9,1538.2 C342.2,1541.7 343.4,1545.5 344.6,1549.5 C345.9,1553.9 347.1,1558.7 348.2,1563.6 C349.4,1569 350.4,1575 351.2,1580.6 C352,1586.1 352.3,1591.2 353.2,1597 C354.2,1603.4 355.5,1610.6 356.9,1617.4 C358.2,1624.2 359.7,1631.1 361.3,1637.7 C362.9,1644.1 364.8,1650.3 366.4,1656.4 C367.9,1662.2 369.6,1667.9 370.8,1673.4 C371.9,1678.6 372.7,1683.3 373.3,1688.7 C373.9,1694.6 374.2,1700.7 374.5,1707.4 C374.8,1715.2 375,1723.8 375.2,1732.9 C375.4,1743.4 375.4,1755.5 375.6,1766.8 C375.8,1778.1 375.9,1790.9 376.2,1800.8 C376.4,1808.4 376.8,1814.3 377.1,1821" fill="none" stroke="#0000ff" stroke-width="5.9" stroke-linejoin="round" stroke-linecap="round"/>
<path transform="scale(1.16,1)" d="M391.7,1821 C391.8,1808.6 391.8,1795.9 392,1783.8 C392.2,1772.2 392.4,1760.4 392.8,1749.9 C393,1740.8 393.3,1732.6 393.8,1724.4 C394.3,1716.8 394.8,1709 395.7,1702.3 C396.5,1696.7 397.4,1691.5 398.6,1687 C399.6,1683.2 400.5,1679.7 402.2,1676.8 C403.8,1674.1 405.8,1671.6 408.1,1670 C410.2,1668.6 412.8,1667.9 415.4,1667.5 C418.2,1667.1 421.1,1667.5 424.2,1668 C427.9,1668.6 432.1,1669.9 435.9,1670.9 C439.9,1672 443.7,1673.4 447.7,1674.3 C451.6,1675.1 455.5,1675.8 459.4,1676 C463.3,1676.2 467,1675.9 471.1,1675.5 C475.7,1675 480.8,1673.9 485.7,1673.1 C490.6,1672.2 495.5,1671.2 500.3,1670.4 C505.2,1669.6 512.1,1668.8 515,1668.3 C516.2,1668.1 516.7,1668 517.5,1667.8 C518.1,1655.7 518.6,1644.3 519.3,1631.4 C520.1,1616.9 521.1,1599 522,1585.1 C522.7,1573.8 523.3,1564.5 524,1554.2 C524.6,1543.9 525.3,1531.6 525.9,1523.4 C526.4,1517.9 526.4,1512.1 527.2,1509.5 C527.6,1508.3 528.2,1508 528.6,1507.2 C529.3,1510 529.9,1512.4 530.6,1515.7 C531.5,1520.1 532.4,1526 533.3,1531.1 C534.2,1536.2 534.8,1542.4 535.9,1546.5 C536.6,1549.3 537.5,1551.2 538.3,1553.5 C538.4,1543.5 538.5,1534.5 538.5,1523.4 C538.6,1509.6 538.7,1491 538.8,1477.1 C538.9,1465.8 538.8,1454.9 539.2,1446.3 C539.5,1440 540.1,1435.5 540.5,1430.1 C541.2,1432.9 542,1435 542.6,1438.6 C543.5,1444.4 543.9,1453.4 544.6,1461.7 C545.3,1471.2 545.9,1482.2 546.6,1492.5 C547.2,1502.8 547.9,1513.1 548.5,1523.4 C549.2,1533.7 549.8,1542.9 550.3,1554.2 C550.8,1568.1 551.1,1586.6 551.6,1600.5 C551.9,1611.8 552.2,1621.8 552.5,1631.4 C552.8,1639.7 553.1,1646.8 553.4,1654.5 C553.9,1649.4 554.4,1644.8 554.8,1639.1 C555.4,1632.2 555.7,1622.9 556.6,1616 C557.2,1610.3 557.9,1605.1 559.1,1600.5 C560.2,1596.5 561.6,1592.8 563.2,1589.7 C564.6,1587.1 566.2,1584.2 567.8,1582.8 C568.9,1581.9 570,1581.7 571.1,1581.2 C572.5,1582.5 574.1,1583.3 575.2,1585.1 C576.7,1587.7 577.5,1591.9 578.4,1595.9 C579.6,1600.5 580.4,1605.8 581.1,1611.3 C582,1617.5 582.5,1624.5 583.1,1631.4 C583.8,1638.8 584.3,1647.8 585.1,1654.5 C585.7,1659.7 586.4,1663.8 587.1,1668.4 L590.5,1668" fill="none" stroke="#0000ff" stroke-width="5.9" stroke-linejoin="round" stroke-linecap="round"/>
<line x1="80.6" y1="1353.4" x2="689.1" y2="1353.4" stroke="#000" stroke-width="6.4"/>
<line x1="80.6" y1="1821.7" x2="689.1" y2="1821.7" stroke="#000" stroke-width="6.4"/>
<line x1="84.3" y1="1353.4" x2="84.3" y2="1821.7" stroke="#000" stroke-width="7.3"/>
<line x1="685.5" y1="1353.4" x2="685.5" y2="1821.7" stroke="#000" stroke-width="7.3"/>
<line x1="84.3" y1="1821.7" x2="84.3" y2="1831.1" stroke="#000" stroke-width="7"/>
<line x1="159.4" y1="1821.7" x2="159.4" y2="1826.5" stroke="#000" stroke-width="7"/>
<line x1="234.6" y1="1821.7" x2="234.6" y2="1831.1" stroke="#000" stroke-width="7"/>
<line x1="309.8" y1="1821.7" x2="309.8" y2="1826.5" stroke="#000" stroke-width="7"/>
<line x1="384.9" y1="1821.7" x2="384.9" y2="1831.1" stroke="#000" stroke-width="7"/>
<line x1="460.1" y1="1821.7" x2="460.1" y2="1826.5" stroke="#000" stroke-width="7"/>
<line x1="535.2" y1="1821.7" x2="535.2" y2="1831.1" stroke="#000" stroke-width="7"/>
<line x1="610.4" y1="1821.7" x2="610.4" y2="1826.5" stroke="#000" stroke-width="7"/>
<line x1="685.5" y1="1821.7" x2="685.5" y2="1831.1" stroke="#000" stroke-width="7"/>
<line x1="74.5" y1="1821.7" x2="84.3" y2="1821.7" stroke="#000" stroke-width="6.4"/>
<line x1="78.7" y1="1743.7" x2="84.3" y2="1743.7" stroke="#000" stroke-width="6.4"/>
<line x1="74.5" y1="1665.6" x2="84.3" y2="1665.6" stroke="#000" stroke-width="6.4"/>
<line x1="78.7" y1="1587.6" x2="84.3" y2="1587.6" stroke="#000" stroke-width="6.4"/>
<line x1="74.5" y1="1509.5" x2="84.3" y2="1509.5" stroke="#000" stroke-width="6.4"/>
<line x1="78.7" y1="1431.5" x2="84.3" y2="1431.5" stroke="#000" stroke-width="6.4"/>
<line x1="74.5" y1="1353.4" x2="84.3" y2="1353.4" stroke="#000" stroke-width="6.4"/>
<text x="60.2" y="1868.1" font-family="'Liberation Serif','Times New Roman',serif" font-size="40" font-weight="bold" text-anchor="start" textLength="27.3" lengthAdjust="spacingAndGlyphs" stroke="#000" stroke-width="0.5">−</text>
<text x="85.1" y="1868.1" font-family="'Liberation Serif','Times New Roman',serif" font-size="40" font-weight="bold" text-anchor="start" stroke="#000" stroke-width="0.5">2</text>
<text x="210.5" y="1868.1" font-family="'Liberation Serif','Times New Roman',serif" font-size="40" font-weight="bold" text-anchor="start" textLength="27.3" lengthAdjust="spacingAndGlyphs" stroke="#000" stroke-width="0.5">−</text>
<text x="235.4" y="1868.1" font-family="'Liberation Serif','Times New Roman',serif" font-size="40" font-weight="bold" text-anchor="start" stroke="#000" stroke-width="0.5">1</text>
<text x="384.9" y="1868.1" font-family="'Liberation Serif','Times New Roman',serif" font-size="40" font-weight="bold" text-anchor="middle" stroke="#000" stroke-width="0.5">0</text>
<text x="535.2" y="1868.1" font-family="'Liberation Serif','Times New Roman',serif" font-size="40" font-weight="bold" text-anchor="middle" stroke="#000" stroke-width="0.5">1</text>
<text x="685.5" y="1868.1" font-family="'Liberation Serif','Times New Roman',serif" font-size="40" font-weight="bold" text-anchor="middle" stroke="#000" stroke-width="0.5">2</text>
<text x="68.4" y="1832.8" font-family="'Liberation Serif','Times New Roman',serif" font-size="41" font-weight="bold" text-anchor="end" stroke="#000" stroke-width="0.5">0</text>
<text x="68.4" y="1676.7" font-family="'Liberation Serif','Times New Roman',serif" font-size="41" font-weight="bold" text-anchor="end" stroke="#000" stroke-width="0.5">1</text>
<text x="68.4" y="1520.6" font-family="'Liberation Serif','Times New Roman',serif" font-size="41" font-weight="bold" text-anchor="end" stroke="#000" stroke-width="0.5">2</text>
<text x="68.4" y="1364.5" font-family="'Liberation Serif','Times New Roman',serif" font-size="41" font-weight="bold" text-anchor="end" stroke="#000" stroke-width="0.5">3</text>
<text x="384.9" y="1930.6" font-family="'Liberation Serif','Times New Roman',serif" font-size="40" font-weight="bold" text-anchor="middle" textLength="213.5" lengthAdjust="spacingAndGlyphs" stroke="#000" stroke-width="0.5">Energy (eV)</text>
<g transform="translate(34.3,1588.6) rotate(-90) scale(1,1.07)"><text x="0" y="0" font-family="'Liberation Sans',Arial,sans-serif" font-size="39.6" font-weight="bold" text-anchor="middle" textLength="257.5" lengthAdjust="spacingAndGlyphs" stroke="#000" stroke-width="0.5">Transmission</text></g>
<text x="92.6" y="1389.2" font-family="'Liberation Serif','Times New Roman',serif" font-size="36.6" font-weight="bold" text-anchor="start" textLength="81.2" lengthAdjust="spacingAndGlyphs" stroke="#000" stroke-width="0.5">0.1 V</text>
<text x="606.7" y="1799.1" font-family="'Liberation Serif','Times New Roman',serif" font-size="55" font-weight="bold" text-anchor="start" textLength="65.1" lengthAdjust="spacingAndGlyphs" stroke="#000" stroke-width="0.5">(e)</text>
<text x="349.9" y="1332.4" font-family="'Liberation Sans',Arial,sans-serif" font-size="31.8" font-weight="bold" text-anchor="start" textLength="16.4" lengthAdjust="spacingAndGlyphs" stroke="#000" stroke-width="0.5">ε</text>
<text x="366.5" y="1341.6" font-family="'Liberation Sans',Arial,sans-serif" font-size="25.4" font-weight="bold" text-anchor="start" textLength="15.5" lengthAdjust="spacingAndGlyphs" stroke="#000" stroke-width="0.5">L</text>
<text x="384.6" y="1332.7" font-family="'Liberation Sans',Arial,sans-serif" font-size="31.8" font-weight="bold" text-anchor="start" textLength="16.4" lengthAdjust="spacingAndGlyphs" stroke="#000" stroke-width="0.5">ε</text>
<text x="401.2" y="1342" font-family="'Liberation Sans',Arial,sans-serif" font-size="25.4" font-weight="bold" text-anchor="start" textLength="18.2" lengthAdjust="spacingAndGlyphs" stroke="#000" stroke-width="0.5">R</text>
</g>
<g id="panel-f">
<line x1="1084.9" y1="1820.7" x2="1084.9" y2="1353.4" stroke="#000" stroke-width="6.4" stroke-dasharray="6.7 5.95"/>
<line x1="1114.9" y1="1820.7" x2="1114.9" y2="1353.4" stroke="#000" stroke-width="6.4" stroke-dasharray="6.7 5.95"/>
<path transform="scale(1.16,1)" d="M688.8,1821 C689.9,1820.7 690.8,1820.4 692.2,1820.2 C694.8,1819.9 699.2,1819.7 702.6,1819.9 C705.8,1820.1 707,1821.1 712.1,1821.5 C732.1,1823.2 840,1821.7 862.1,1821.7 C868.3,1821.7 871.5,1822.4 874.1,1821.7 C875.5,1821.3 876.3,1820.7 877.2,1820 C878,1819.3 878.3,1818.3 879.1,1817.5 C880.3,1816.5 882.1,1815.8 883.5,1814.9 C885,1814.1 886.7,1813.3 887.9,1812.4 C889,1811.6 889.7,1810.7 890.6,1809.9 L892.3,1809.9 C893.6,1808.5 894.9,1807.4 896,1805.6 C897.5,1803.2 898.6,1799.9 899.7,1796.3 C901,1791.5 901.7,1785.2 902.6,1779.3 C903.5,1772.8 904.2,1766.1 904.8,1758.9 C905.5,1750.9 905.8,1741.9 906.3,1733.4 C906.8,1724.9 907.3,1715.7 907.8,1707.9 C908.1,1701.2 908.2,1693.8 908.7,1689.3 C909,1686.7 909.3,1685.3 909.7,1683.3 C910.1,1685.9 910.7,1687.9 911.1,1691 C911.7,1695.5 911.7,1701.3 912.1,1707.9 C912.5,1717.3 913,1731.4 913.5,1741.9 C914,1751 914.3,1759.4 915,1767.4 C915.6,1774.6 916.3,1781.7 917.2,1787.8 C918.1,1792.8 918.9,1797.4 920.2,1801.4 C921.2,1804.6 922.2,1807.6 923.8,1809.9 C925.2,1812 927,1813.8 929,1814.9 C930.7,1815.9 932.7,1816.2 934.8,1816.6 C937.4,1817.1 941.4,1817.9 943.6,1817.5 C945.1,1817.2 946.2,1816.7 947.2,1815.8 C948.4,1814.8 949.1,1812.5 950.2,1811.6 C951,1810.9 951.8,1810.8 952.7,1810.4 C953.6,1811.1 954.5,1811.6 955.3,1812.4 C956.3,1813.3 956.9,1815 958.2,1815.8 C959.7,1816.8 962,1817.1 964.1,1817.5 C966.3,1818 968.9,1818.2 971.4,1818.3 C973.8,1818.4 976.7,1818.7 978.7,1818.3 C980.2,1818 981.3,1817 982.4,1816.6 C983.2,1816.3 983.9,1816.1 984.6,1815.8 C985.3,1816.5 985.9,1817.3 986.8,1818 C987.9,1818.9 989.2,1819.9 990.5,1820.5 C991.9,1821.1 992.3,1821.4 994.8,1821.7 C1008.7,1823.6 1117.2,1821.7 1133.6,1821.7 C1137.2,1821.7 1137.9,1821.7 1140.1,1821.7 C1140.1,1820.8 1140.2,1820.4 1140.3,1819 C1140.4,1814.9 1140.5,1802.2 1140.7,1794.3 C1140.9,1787.1 1141.2,1780.6 1141.4,1773.7 C1141.6,1766.8 1141.7,1759.1 1142,1753.1 C1142.2,1748.5 1142.2,1744.2 1142.9,1740.8 C1143.4,1738.3 1144.2,1736.3 1145.1,1734.6 C1145.7,1733.3 1146.8,1732.8 1147.3,1731.5 C1148.1,1729.7 1148.4,1727 1148.7,1724.3 C1149.2,1720.8 1149.3,1716.3 1149.6,1712 C1149.9,1707.2 1150,1700.9 1150.4,1696.6 C1150.8,1693.4 1151.4,1691.1 1151.8,1688.3 C1152.1,1692.8 1152.4,1696.8 1152.7,1701.7 C1153,1707.8 1153.1,1715.9 1153.5,1722.3 C1153.9,1727.8 1154.4,1732.6 1154.9,1737.7 C1155.4,1742.8 1156,1747.6 1156.6,1753.1 C1157.3,1759.5 1158.2,1766.8 1158.9,1773.7 C1159.5,1780.6 1160.1,1787.9 1160.6,1794.3 C1161,1799.8 1161.6,1804.9 1161.8,1809.7 C1162,1813.9 1162,1817.7 1162.2,1821.7 C1163.3,1821.7 1163.8,1821.7 1165.5,1821.7 C1171.3,1821.7 1190.8,1821.7 1203.4,1821.7" fill="none" stroke="#0000ff" stroke-width="5.9" stroke-linejoin="round" stroke-linecap="round"/>
<line x1="795.5" y1="1353.4" x2="1404.4" y2="1353.4" stroke="#000" stroke-width="6.4"/>
<line x1="795.5" y1="1821.7" x2="1404.4" y2="1821.7" stroke="#000" stroke-width="6.4"/>
<line x1="799.1" y1="1353.4" x2="799.1" y2="1821.7" stroke="#000" stroke-width="7.3"/>
<line x1="1400.7" y1="1353.4" x2="1400.7" y2="1821.7" stroke="#000" stroke-width="7.3"/>
<line x1="799.1" y1="1821.7" x2="799.1" y2="1831.1" stroke="#000" stroke-width="7"/>
<line x1="874.3" y1="1821.7" x2="874.3" y2="1826.5" stroke="#000" stroke-width="7"/>
<line x1="949.5" y1="1821.7" x2="949.5" y2="1831.1" stroke="#000" stroke-width="7"/>
<line x1="1024.7" y1="1821.7" x2="1024.7" y2="1826.5" stroke="#000" stroke-width="7"/>
<line x1="1099.9" y1="1821.7" x2="1099.9" y2="1831.1" stroke="#000" stroke-width="7"/>
<line x1="1175.1" y1="1821.7" x2="1175.1" y2="1826.5" stroke="#000" stroke-width="7"/>
<line x1="1250.3" y1="1821.7" x2="1250.3" y2="1831.1" stroke="#000" stroke-width="7"/>
<line x1="1325.5" y1="1821.7" x2="1325.5" y2="1826.5" stroke="#000" stroke-width="7"/>
<line x1="1400.7" y1="1821.7" x2="1400.7" y2="1831.1" stroke="#000" stroke-width="7"/>
<line x1="789.3" y1="1821.7" x2="799.1" y2="1821.7" stroke="#000" stroke-width="6.4"/>
<line x1="793.5" y1="1743.7" x2="799.1" y2="1743.7" stroke="#000" stroke-width="6.4"/>
<line x1="789.3" y1="1665.6" x2="799.1" y2="1665.6" stroke="#000" stroke-width="6.4"/>
<line x1="793.5" y1="1587.6" x2="799.1" y2="1587.6" stroke="#000" stroke-width="6.4"/>
<line x1="789.3" y1="1509.5" x2="799.1" y2="1509.5" stroke="#000" stroke-width="6.4"/>
<line x1="793.5" y1="1431.5" x2="799.1" y2="1431.5" stroke="#000" stroke-width="6.4"/>
<line x1="789.3" y1="1353.4" x2="799.1" y2="1353.4" stroke="#000" stroke-width="6.4"/>
<text x="775" y="1868.1" font-family="'Liberation Serif','Times New Roman',serif" font-size="40" font-weight="bold" text-anchor="start" textLength="27.3" lengthAdjust="spacingAndGlyphs" stroke="#000" stroke-width="0.5">−</text>
<text x="799.9" y="1868.1" font-family="'Liberation Serif','Times New Roman',serif" font-size="40" font-weight="bold" text-anchor="start" stroke="#000" stroke-width="0.5">2</text>
<text x="925.4" y="1868.1" font-family="'Liberation Serif','Times New Roman',serif" font-size="40" font-weight="bold" text-anchor="start" textLength="27.3" lengthAdjust="spacingAndGlyphs" stroke="#000" stroke-width="0.5">−</text>
<text x="950.3" y="1868.1" font-family="'Liberation Serif','Times New Roman',serif" font-size="40" font-weight="bold" text-anchor="start" stroke="#000" stroke-width="0.5">1</text>
<text x="1099.9" y="1868.1" font-family="'Liberation Serif','Times New Roman',serif" font-size="40" font-weight="bold" text-anchor="middle" stroke="#000" stroke-width="0.5">0</text>
<text x="1250.3" y="1868.1" font-family="'Liberation Serif','Times New Roman',serif" font-size="40" font-weight="bold" text-anchor="middle" stroke="#000" stroke-width="0.5">1</text>
<text x="1400.7" y="1868.1" font-family="'Liberation Serif','Times New Roman',serif" font-size="40" font-weight="bold" text-anchor="middle" stroke="#000" stroke-width="0.5">2</text>
<text x="783.2" y="1832.8" font-family="'Liberation Serif','Times New Roman',serif" font-size="41" font-weight="bold" text-anchor="end" stroke="#000" stroke-width="0.5">0</text>
<text x="783.2" y="1676.7" font-family="'Liberation Serif','Times New Roman',serif" font-size="41" font-weight="bold" text-anchor="end" stroke="#000" stroke-width="0.5">1</text>
<text x="783.2" y="1520.6" font-family="'Liberation Serif','Times New Roman',serif" font-size="41" font-weight="bold" text-anchor="end" stroke="#000" stroke-width="0.5">2</text>
<text x="783.2" y="1364.5" font-family="'Liberation Serif','Times New Roman',serif" font-size="41" font-weight="bold" text-anchor="end" stroke="#000" stroke-width="0.5">3</text>
<text x="1099.9" y="1930.6" font-family="'Liberation Serif','Times New Roman',serif" font-size="40" font-weight="bold" text-anchor="middle" textLength="213.5" lengthAdjust="spacingAndGlyphs" stroke="#000" stroke-width="0.5">Energy (eV)</text>
<g transform="translate(748.8,1587.6) rotate(-90) scale(1,1.06)"><text x="0" y="0" font-family="'Liberation Serif','Times New Roman',serif" font-size="40" font-weight="bold" text-anchor="middle" textLength="228" lengthAdjust="spacingAndGlyphs" stroke="#000" stroke-width="0.5">Transmission</text></g>
<text x="806.5" y="1390.1" font-family="'Liberation Serif','Times New Roman',serif" font-size="36.6" font-weight="bold" text-anchor="start" textLength="81.5" lengthAdjust="spacingAndGlyphs" stroke="#000" stroke-width="0.5">0.2 V</text>
<text x="1236.1" y="1796" font-family="'Liberation Serif','Times New Roman',serif" font-size="55" font-weight="bold" text-anchor="start" textLength="58.2" lengthAdjust="spacingAndGlyphs" stroke="#000" stroke-width="0.5">(f)</text>
<text x="1065.8" y="1338.8" font-family="'Liberation Sans',Arial,sans-serif" font-size="31.8" font-weight="bold" text-anchor="start" textLength="16.4" lengthAdjust="spacingAndGlyphs" stroke="#000" stroke-width="0.5">ε</text>
<text x="1082.2" y="1348" font-family="'Liberation Sans',Arial,sans-serif" font-size="25.4" font-weight="bold" text-anchor="start" textLength="15.5" lengthAdjust="spacingAndGlyphs" stroke="#000" stroke-width="0.5">L</text>
<text x="1100.2" y="1338.9" font-family="'Liberation Sans',Arial,sans-serif" font-size="31.8" font-weight="bold" text-anchor="start" textLength="16.4" lengthAdjust="spacingAndGlyphs" stroke="#000" stroke-width="0.5">ε</text>
<text x="1116.8" y="1348.2" font-family="'Liberation Sans',Arial,sans-serif" font-size="25.4" font-weight="bold" text-anchor="start" textLength="18.2" lengthAdjust="spacingAndGlyphs" stroke="#000" stroke-width="0.5">R</text>
</g>
</svg>
</body></html>
